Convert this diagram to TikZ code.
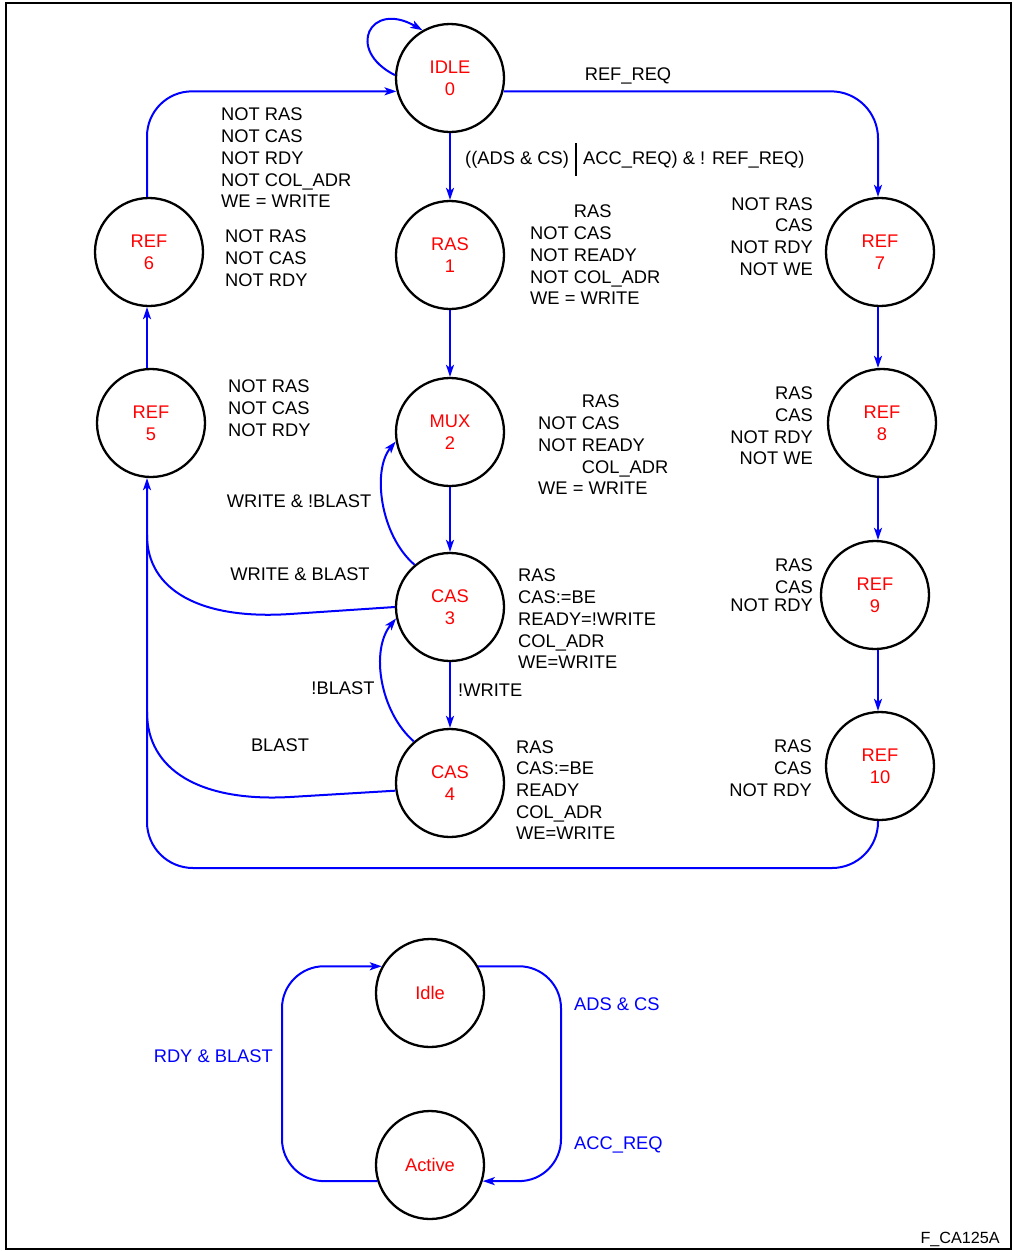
\documentclass[tikz,border=0pt]{standalone}
\usepackage{fontspec}
\setmainfont{Liberation Sans}
\usetikzlibrary{arrows.meta}
\newcommand{\lblfont}{\fontsize{18.3}{21.7}\selectfont}
\tikzset{
  st/.style={circle, draw=black, line width=2.3pt, minimum size=108pt, inner sep=0pt,
             text=red, align=center, font=\lblfont},
  tr/.style={draw=blue, line width=2pt, -{Stealth[length=12pt,width=8pt,inset=3pt]}},
  ln/.style={draw=blue, line width=2pt},
  lab/.style={font=\lblfont, inner sep=0pt, text=black},
  blab/.style={font=\lblfont, inner sep=0pt, text=blue},
}
\begin{document}
\begin{tikzpicture}[x=1pt,y=-1pt]
\useasboundingbox (0,0) rectangle (1013,1251);
\draw[line width=2.2pt] (6,3) rectangle (1011,1249);

% helper coordinates
\coordinate (xl) at (147,0);
\coordinate (xr) at (878,0);
\coordinate (bl) at (147,868);
\coordinate (m1) at (147,535);
\coordinate (m2) at (147,712);
\coordinate (xb) at (561,0);
\coordinate (xa) at (282,0);

% states
\node[st] (idle) at (450,78) {IDLE\\0};
\node[st] (ras)  at (450,255) {RAS\\1};
\node[st] (mux)  at (450,432) {MUX\\2};
\node[st] (cas3) at (450,607) {CAS\\3};
\node[st] (cas4) at (450,783) {CAS\\4};
\node[st] (ref5) at (151,423) {REF\\5};
\node[st] (ref6) at (149,252) {REF\\6};
\node[st] (ref7) at (880,252) {REF\\7};
\node[st] (ref8) at (882,423) {REF\\8};
\node[st] (ref9) at (875,595) {REF\\9};
\node[st] (ref10) at (880,766) {REF\\10};
\node[st] (sidle) at (430,993) {Idle};
\node[st] (sact) at (430,1165) {Active};

% transitions
\draw[tr] (idle.177) .. controls (345,50) and (370,0) .. (idle.120);
\draw[tr] (idle.south) -- (ras.north);
\draw[tr, rounded corners=47] (idle.-14) -- (idle.-14 -| xr) -- (xr |- ref7.north);
\draw[tr, rounded corners=45] (ref6.north -| xl) -- (xl |- idle.194) -- (idle.194);
\draw[tr] (ras.south) -- (mux.north);
\draw[tr] (mux.south) -- (cas3.north);
\draw[tr] (cas3.south) -- (cas4.north);
\draw[tr] (cas3.130) .. controls (380,535) and (372,470) .. (mux.190);
\draw[tr] (cas4.131) .. controls (380,712) and (370,650) .. (cas3.192);
\draw[ln] (cas3.180) -- (290,614) .. controls (200,620) and (147,590) .. (m1);
\draw[ln] (cas4.188) -- (290,797) .. controls (200,802) and (147,770) .. (m2);
\draw[tr, rounded corners=46] (ref10.south -| xr) -- (xr |- bl) -- (bl) -- (ref5.south -| xl);
\draw[tr] (ref5.north -| xl) -- (ref6.south -| xl);
\draw[tr] (ref7.south -| xr) -- (xr |- ref8.north);
\draw[tr] (ref8.south -| xr) -- (xr |- ref9.north);
\draw[tr] (ref9.south -| xr) -- (xr |- ref10.north);

\draw[tr, rounded corners=42] (sidle.29) -- (sidle.29 -| xb) -- (xb |- sact.-17) -- (sact.-17);
\draw[tr, rounded corners=42] (sact.197) -- (sact.197 -| xa) -- (xa |- sidle.151) -- (sidle.151);

% transition labels
\node[lab, anchor=base] (lrr) at (628,80.6) {REF\_REQ};
\node[lab, anchor=base west] (lc1) at (465,164.5) {((ADS \& CS)};
\draw[line width=2pt] (576,143) -- (576,176);
\node[lab, anchor=base west] (lc2) at (583,164.5) {ACC\_REQ) \& ! REF\_REQ)};
\node[lab, anchor=base] (lw1) at (299,507.5) {WRITE \& !BLAST};
\node[lab, anchor=base] (lw2) at (300,580.5) {WRITE \& BLAST};
\node[lab, anchor=base west] (lnw) at (458,696.5) {!WRITE};
\node[lab, anchor=base] (lb1) at (343,694.5) {!BLAST};
\node[lab, anchor=base] (lb2) at (280,751.5) {BLAST};

% output labels
\node[lab, anchor=west, align=left] (o0) at (221,158) {NOT RAS\\NOT CAS\\NOT RDY\\NOT COL\_ADR\\WE = WRITE};
\node[lab, anchor=west, align=left] (o6) at (225,258) {NOT RAS\\NOT CAS\\NOT RDY};
\node[lab, anchor=west, align=left] (o5) at (228,408) {NOT RAS\\NOT CAS\\NOT RDY};
\node[lab, anchor=west, align=left] (o1) at (530,255) {\phantom{NOT }RAS\\NOT CAS\\NOT READY\\NOT COL\_ADR\\WE = WRITE};
\node[lab, anchor=west, align=left] (o2) at (538,445) {\phantom{NOT }RAS\\NOT CAS\\NOT READY\\\phantom{NOT }COL\_ADR\\WE = WRITE};
\node[lab, anchor=west, align=left] (o3) at (518,619) {RAS\\CAS:=BE\\READY=!WRITE\\COL\_ADR\\WE=WRITE};
\node[lab, anchor=west, align=left] (o4) at (516,790) {RAS\\CAS:=BE\\READY\\COL\_ADR\\WE=WRITE};
\node[lab, anchor=east, align=right] (o7) at (813,236.5) {NOT RAS\\CAS\\NOT RDY\\NOT WE};
\node[lab, anchor=east, align=right] (o8) at (813,426) {RAS\\CAS\\NOT RDY\\NOT WE};
\node[lab, anchor=east, align=right] (o9) at (813,585) {RAS\\CAS\\[-4pt]NOT RDY};
\node[lab, anchor=east, align=right] (o10) at (812,768) {RAS\\CAS\\NOT RDY};

% small machine labels
\node[blab, anchor=base west] (la) at (574,1010.5) {ADS \& CS};
\node[blab, anchor=base west] (lacc) at (574,1149.5) {ACC\_REQ};
\node[blab, anchor=base east] (lrdy) at (273,1062.5) {RDY \& BLAST};

\node[font=\fontsize{16.2}{19}\selectfont, inner sep=0pt, anchor=base east] (fig) at (1000,1243) {F\_CA125A};
\end{tikzpicture}
\end{document}
